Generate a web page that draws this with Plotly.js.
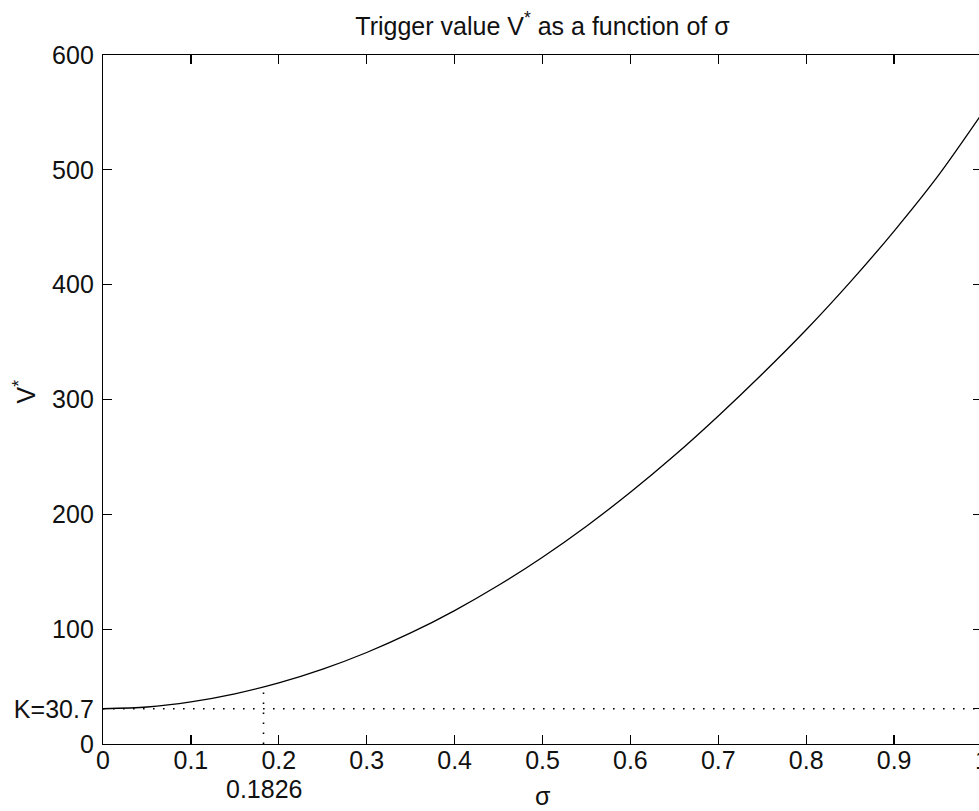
<!DOCTYPE html>
<html>
<head>
<meta charset="utf-8">
<script src="https://cdn.plot.ly/plotly-3.0.1.min.js"></script>
<style>
html,body{margin:0;padding:0;overflow:hidden;background:#fff;}
#chart{width:990px;height:811px;}
</style>
</head>
<body>
<div id="chart"></div>
<script>
// Data
const sigma = [0, 0.05, 0.1, 0.15, 0.2, 0.25, 0.3, 0.35, 0.4, 0.45, 0.5, 0.55, 0.6, 0.65, 0.7, 0.75, 0.8, 0.85, 0.9, 0.95, 1.0];
const vstar = [30.7, 32.2, 36.7, 43.7, 53.2, 65.2, 79.7, 96.7, 116.2, 138.2, 162.7, 189.7, 219.2, 251.2, 285.7, 322.2, 360.7, 402.2, 446.7, 494.7, 549];
const K = 30.7;
const sigmaStar = 0.1826;
const vAtSigmaStar = 50.5;
const xTickVals = [0, 0.1, 0.2, 0.3, 0.4, 0.5, 0.6, 0.7, 0.8, 0.9, 1];
const xTickText = ['0', '0.1', '0.2', '0.3', '0.4', '0.5', '0.6', '0.7', '0.8', '0.9', '1'];
const yTickVals = [0, 30.7, 100, 200, 300, 400, 500, 600];
const yTickText = ['0', 'K=30.7', '100', '200', '300', '400', '500', '600'];

const font = 'Liberation Sans, Arial, sans-serif';
const txtColor = '#111';
const dotted = {color: '#000', width: 1.6, dash: '1.6px,8.4px'};

const traces = [
  {x: [0, 1], y: [K, K], mode: 'lines', line: dotted, hoverinfo: 'skip'},
  {x: [sigmaStar, sigmaStar], y: [0, vAtSigmaStar], mode: 'lines', line: dotted, hoverinfo: 'skip'},
  {x: sigma, y: vstar, mode: 'lines', line: {color: '#000', width: 1.3, shape: 'spline', smoothing: 0.8}}
];

const axisCommon = {
  showline: true, linecolor: '#000', linewidth: 1.2, mirror: 'ticks',
  ticks: 'inside', ticklen: 9, tickwidth: 1.2, tickcolor: '#000',
  showgrid: false, zeroline: false, tickmode: 'array',
  tickfont: {family: font, size: 25, color: txtColor}
};

const layout = {
  width: 990, height: 811,
  margin: {l: 103, r: 8, t: 55, b: 67},
  paper_bgcolor: '#fff', plot_bgcolor: '#fff',
  showlegend: false,
  font: {family: font, size: 25, color: txtColor},
  title: {text: 'Trigger value V<sup>*</sup> as a function of σ', font: {family: font, size: 25, color: txtColor},
          x: 0.5, xref: 'paper', y: 1 - 26/811, yref: 'container', yanchor: 'middle'},
  xaxis: Object.assign({}, axisCommon, {range: [0, 1], tickvals: xTickVals, ticktext: xTickText, ticklabelstandoff: -6}),
  yaxis: Object.assign({}, axisCommon, {range: [0, 600], tickvals: yTickVals, ticktext: yTickText, ticklabelstandoff: 3}),
  annotations: [
    {text: '0.1826', x: sigmaStar, xref: 'x', y: 0, yref: 'paper', yshift: -45, xanchor: 'center', yanchor: 'middle',
     showarrow: false, font: {family: font, size: 25, color: txtColor}},
    {text: 'σ', x: 0.5, xref: 'paper', y: 0, yref: 'paper', yshift: -52, xanchor: 'center', yanchor: 'middle',
     showarrow: false, font: {family: font, size: 25, color: txtColor}},
    {text: 'V<sup>*</sup>', x: 0, xref: 'paper', xshift: -79, y: 0.5, yref: 'paper', yshift: 8, textangle: -90,
     xanchor: 'center', yanchor: 'middle', showarrow: false, font: {family: font, size: 25, color: txtColor}}
  ]
};

Plotly.newPlot('chart', traces, layout, {displayModeBar: false, staticPlot: true});
</script>
</body>
</html>
